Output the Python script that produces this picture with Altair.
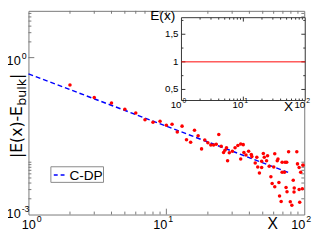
import altair as alt
import pandas as pd

# ---------------- data ----------------
X_VALS = [2, 3, 4, 5, 6, 7, 8, 9, 10, 11, 12, 13, 14, 15, 16, 17, 18, 19, 20, 21,
          22, 23, 24, 25, 26, 26.6, 27.3, 27.8, 28.6, 30.1, 31.5, 33, 34.6, 34.6, 36.1,
          36.5, 37.8, 39.5, 41.3, 41.7, 44.1, 45.3, 46, 47.3, 49.1, 49.1, 50.5, 51.3,
          53.3, 54.2, 55.7, 57.3, 58.5, 60.1, 61.1, 61.1, 63.7, 64.5, 65.5, 66.2, 68,
          69.1, 69.1, 71.9, 72.6, 74.6, 73.8, 75, 77, 79.2, 81.3, 83.2, 84.6, 84.3,
          88.3, 89.3, 91.8, 92.7, 94.2, 91.8, 97.9, 96.8]
Y_VALS = [0.30, 0.172, 0.135, 0.103, 0.087, 0.065, 0.058, 0.061, 0.051, 0.053, 0.038,
          0.049, 0.027, 0.024, 0.041, 0.032, 0.018, 0.0267, 0.0236, 0.0214, 0.0214,
          0.022, 0.034, 0.0202, 0.0154, 0.0169, 0.0189, 0.0107, 0.0151, 0.0162, 0.0189,
          0.0208, 0.0223, 0.0115, 0.0217, 0.0154, 0.0137, 0.0162, 0.0141, 0.0128,
          0.0097, 0.0125, 0.0081, 0.0062, 0.0104, 0.0079, 0.0147, 0.0125, 0.0107,
          0.0133, 0.0084, 0.0053, 0.0039, 0.0081, 0.0145, 0.0034, 0.0107, 0.0115,
          0.0041, 0.00226, 0.00178, 0.0100, 0.0064, 0.0064, 0.0100, 0.0100, 0.0033,
          0.00274, 0.0158, 0.00176, 0.00151, 0.0045, 0.0032, 0.0027, 0.0158, 0.0093,
          0.0079, 0.00171, 0.0064, 0.0030, 0.0088, 0.0031]
FIT_X = [1, 80]
FIT_Y = [0.49, 0.0061]
INSET_LINE_X = [1, 100]
INSET_LINE_Y = [1, 1]

MAIN_X_MAJOR = [10]
MAIN_X_MINOR = [2, 3, 4, 5, 6, 7, 8, 9, 20, 30, 40, 50, 60, 70, 80, 90]
MAIN_Y_MAJOR = [1]
MAIN_Y_MINOR = [2, 3, 4, 5, 6, 7, 0.002, 0.003, 0.004, 0.005, 0.006, 0.007, 0.008, 0.009, 0.01]
MAIN_X_LABELS = [10, 100]
MAIN_X_EXP = ["1", "2"]

INSET_X_MAJOR = [10]
INSET_X_MINOR = [2, 3, 4, 5, 6, 7, 8, 9, 20, 30, 40, 50, 60, 70, 80, 90]
INSET_Y_MAJOR = [0.5, 1, 1.5]
INSET_Y_MINOR = [0.75, 1.25, 1.75]
INSET_Y_TEXT = ["0,5", "1", "1,5"]
INSET_X_LABELS = [1, 10, 100]
INSET_X_EXP = ["0", "1", "2"]

# ---------------- layout ----------------
W, H = 283, 209
YTOP = 7.84
FONT = "Liberation Sans"
MAINC = "#777777"
INSC = "#333333"
IX0, IX1, IY0, IY1 = 157, 284, 92, 7


def sx():
    return alt.Scale(type="log", domain=[1, 100], nice=False, range=[0, W])


def sy():
    return alt.Scale(type="log", domain=[0.001, YTOP], nice=False, range=[H, 0])


def isx():
    return alt.Scale(type="log", domain=[1, 100], nice=False, range=[IX0, IX1])


def isy():
    return alt.Scale(type="linear", domain=[0.3, 1.8], nice=False, zero=False, range=[IY0, IY1])


def X(f, s):
    return alt.X(f, type="quantitative", scale=s, axis=None)


def Y(f, s):
    return alt.Y(f, type="quantitative", scale=s, axis=None)


def df(**kw):
    return pd.DataFrame(kw)


def txt(size, align="left", font=FONT, **kw):
    return dict(font=font, fontSize=size, align=align, baseline="alphabetic", color="black", **kw)


one = df(a=[0])
layers = []

# main ticks (inward, on all four sides)
for vals, L in [(MAIN_X_MAJOR, 6), (MAIN_X_MINOR, 3)]:
    d = df(v=vals)
    layers.append(alt.Chart(d).mark_rule(color=MAINC).encode(
        x=X("v", sx()), y=alt.value(H), y2=alt.value(H - L)))
    layers.append(alt.Chart(d).mark_rule(color=MAINC).encode(
        x=X("v", sx()), y=alt.value(0), y2=alt.value(L)))
for vals, L in [(MAIN_Y_MAJOR, 6), (MAIN_Y_MINOR, 3)]:
    d = df(v=vals)
    layers.append(alt.Chart(d).mark_rule(color=MAINC).encode(
        y=Y("v", sy()), x=alt.value(0), x2=alt.value(L)))
    layers.append(alt.Chart(d).mark_rule(color=MAINC).encode(
        y=Y("v", sy()), x=alt.value(W), x2=alt.value(W - L)))

# fit line and points
layers.append(alt.Chart(df(x=FIT_X, y=FIT_Y)).mark_line(
    color="#0000ff", strokeDash=[5, 3], strokeWidth=1.5).encode(
    x=X("x", sx()), y=Y("y", sy())))
layers.append(alt.Chart(df(x=X_VALS, y=Y_VALS)).mark_circle(
    size=13, color="#ff0000", opacity=1).encode(
    x=X("x", sx()), y=Y("y", sy())))

# main x tick labels
d = df(v=MAIN_X_LABELS, e=MAIN_X_EXP, t=["10"] * 2)
layers.append(alt.Chart(d).mark_text(**txt(13, "right", dx=1)).encode(
    x=X("v", sx()), y=alt.value(H + 15), text="t:N"))
layers.append(alt.Chart(d).mark_text(**txt(9, "left", dx=2)).encode(
    x=X("v", sx()), y=alt.value(H + 8), text="e:N"))
d = df(v=[1], e=["0"], t=["10"])
layers.append(alt.Chart(d).mark_text(**txt(13, "left", dx=-7)).encode(
    x=X("v", sx()), y=alt.value(H + 15), text="t:N"))
layers.append(alt.Chart(d).mark_text(**txt(9, "left", dx=8.5)).encode(
    x=X("v", sx()), y=alt.value(H + 8), text="e:N"))
# main y tick labels
d = df(v=[1], e=["0"], t=["10"])
layers.append(alt.Chart(d).mark_text(**txt(13, "right", dy=8)).encode(
    y=Y("v", sy()), x=alt.value(-8), text="t:N"))
layers.append(alt.Chart(d).mark_text(**txt(9, "left", dy=1)).encode(
    y=Y("v", sy()), x=alt.value(-7), text="e:N"))
d = df(v=[0.001], e=["-3"], t=["10"])
layers.append(alt.Chart(d).mark_text(**txt(13, "right", dy=4)).encode(
    y=Y("v", sy()), x=alt.value(-8), text="t:N"))
layers.append(alt.Chart(d).mark_text(**txt(9, "left", dy=-3)).encode(
    y=Y("v", sy()), x=alt.value(-7), text="e:N"))

# main axis titles
layers.append(alt.Chart(one).mark_text(**txt(16, "left", font="DejaVu Sans", angle=270)).encode(
    x=alt.value(-7), y=alt.value(151), text=alt.value("|E(x)-E")))
layers.append(alt.Chart(one).mark_text(**txt(13, "left", font="DejaVu Sans", angle=270)).encode(
    x=alt.value(-3), y=alt.value(97.5), text=alt.value("bulk")))
layers.append(alt.Chart(one).mark_text(**txt(16, "left", font="DejaVu Sans", angle=270)).encode(
    x=alt.value(-7), y=alt.value(70), text=alt.value("|")))
layers.append(alt.Chart(one).mark_text(**txt(16, "center")).encode(
    x=alt.value(250.5), y=alt.value(H + 15), text=alt.value("X")))

# legend
layers.append(alt.Chart(one).mark_rect(fill="white", stroke="#888888", strokeWidth=1).encode(
    x=alt.value(23), x2=alt.value(77), y=alt.value(160), y2=alt.value(176)))
layers.append(alt.Chart(one).mark_rule(color="#0000ff", strokeDash=[4, 3], strokeWidth=1.5).encode(
    x=alt.value(26), x2=alt.value(37), y=alt.value(168.5)))
layers.append(alt.Chart(one).mark_text(**txt(14, "left")).encode(
    x=alt.value(42), y=alt.value(174), text=alt.value("C-DP")))

# inset frame and ticks
layers.append(alt.Chart(one).mark_rect(fill="white", stroke=INSC, strokeWidth=1).encode(
    x=alt.value(IX0), x2=alt.value(IX1), y=alt.value(IY1), y2=alt.value(IY0)))
for vals, L in [(INSET_X_MAJOR, 4), (INSET_X_MINOR, 2)]:
    d = df(v=vals)
    layers.append(alt.Chart(d).mark_rule(color=INSC).encode(
        x=X("v", isx()), y=alt.value(IY0), y2=alt.value(IY0 - L)))
    layers.append(alt.Chart(d).mark_rule(color=INSC).encode(
        x=X("v", isx()), y=alt.value(IY1), y2=alt.value(IY1 + L)))
for vals, L in [(INSET_Y_MAJOR, 4), (INSET_Y_MINOR, 2)]:
    d = df(v=vals)
    layers.append(alt.Chart(d).mark_rule(color=INSC).encode(
        y=Y("v", isy()), x=alt.value(IX0), x2=alt.value(IX0 + L)))
    layers.append(alt.Chart(d).mark_rule(color=INSC).encode(
        y=Y("v", isy()), x=alt.value(IX1), x2=alt.value(IX1 - L)))
layers.append(alt.Chart(df(x=INSET_LINE_X, y=INSET_LINE_Y)).mark_line(
    color="#ff0000", strokeWidth=1).encode(x=X("x", isx()), y=Y("y", isy())))

# inset labels
d = df(v=INSET_Y_MAJOR, t=INSET_Y_TEXT)
layers.append(alt.Chart(d).mark_text(font=FONT, fontSize=10, align="right",
                                     baseline="middle", color="black").encode(
    y=Y("v", isy()), x=alt.value(IX0 - 3), text="t:N"))
d = df(v=INSET_X_LABELS, e=INSET_X_EXP, t=["10"] * 3)
layers.append(alt.Chart(d).mark_text(**txt(10, "right")).encode(
    x=X("v", isx()), y=alt.value(IY0 + 8), text="t:N"))
layers.append(alt.Chart(d).mark_text(**txt(7, "left", dx=1)).encode(
    x=X("v", isx()), y=alt.value(IY0 + 3), text="e:N"))
layers.append(alt.Chart(one).mark_text(**txt(14, "left")).encode(
    x=alt.value(125), y=alt.value(9.5), text=alt.value("E(x)")))
layers.append(alt.Chart(one).mark_text(**txt(14, "center")).encode(
    x=alt.value(267), y=alt.value(103), text=alt.value("X")))

chart = alt.layer(*layers).resolve_scale(x="independent", y="independent").properties(
    width=W, height=H,
    autosize=alt.AutoSizeParams(type="none"),
    padding={"left": 21, "top": 0, "right": 10, "bottom": 15},
    background="white",
).configure_view(stroke=MAINC, strokeWidth=1)

chart.save("out.html", embed_options={"renderer": "svg", "actions": False})
